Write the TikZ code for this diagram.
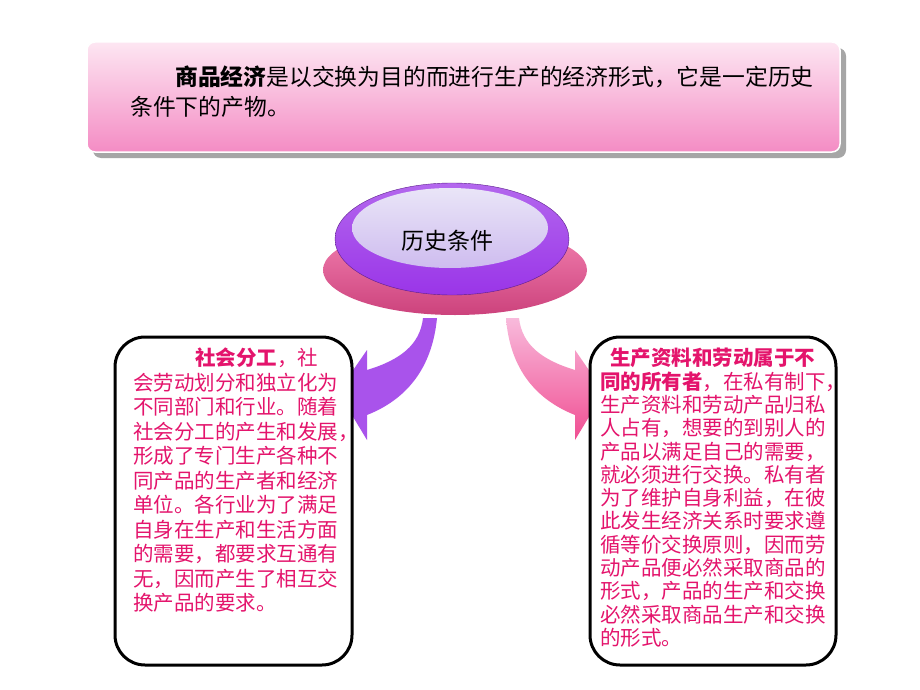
\documentclass[tikz,border=0pt]{standalone}
\usepackage{fontspec}
\newfontfamily\cjk{Noto Sans CJK SC}
\definecolor{txtred}{HTML}{E4146C}
\definecolor{lpink}{HTML}{FDE6F2}
\definecolor{dpink}{HTML}{F48CC4}
\definecolor{purp}{HTML}{9A35E8}
\definecolor{lav}{HTML}{D4CBF0}
\definecolor{hotpink}{HTML}{F04E92}
\tikzset{
  box/.style={draw=black,line width=3pt,rounded corners=30pt,fill=white},
  boxtext/.style={text=txtred,align=left,anchor=north west,inner sep=0pt,text width=#1},
}
\begin{document}
\begin{tikzpicture}[x=1pt,y=-1pt]
\useasboundingbox (0,0) rectangle (920,690);
\fill[white] (0,0) rectangle (920,690);
% banner
\fill[gray!70,rounded corners=8pt] (93,48) rectangle (846,158);
\shade[top color=lpink,bottom color=dpink,rounded corners=8pt,draw=white,line width=1.5pt] (87,42) rectangle (840,152);
\node[anchor=north west,inner sep=0pt,text width=720pt,font=\cjk\fontsize{22.8}{30}\selectfont,align=left] (banner) at (130,66)
 {\hspace*{45pt}\textbf{商品经济}是以交换为目的而进行生产的经济形式，它是一定历史\\条件下的产物。};
% ellipse
\shade[top color=hotpink!70,bottom color=hotpink!85!black] (455,270) ellipse (132pt and 45pt);
\shade[top color=purp!75,bottom color=purp,draw=purp!60!black] (452,239) ellipse (117pt and 56pt);
\shade[top color=lav!50,bottom color=lav!90!purp] (450,228) ellipse (98pt and 40pt);
\node[font=\cjk\fontsize{23}{26}\selectfont] (hist) at (447,241) {历史条件};
% arrows
\fill[purp!85] (423,318) .. controls (420,345) and (400,360) .. (367,370)
  -- (367,350) -- (338,392) -- (367,440)
  -- (367,415) .. controls (405,400) and (432,370) .. (437,318) -- cycle;
\shade[top color=dpink!60,bottom color=hotpink] (506,318) .. controls (510,370) and (537,400) .. (575,415)
  -- (575,440) -- (604,392) -- (575,350)
  -- (575,370) .. controls (542,360) and (522,345) .. (519,318) -- cycle;
% boxes
\draw[box] (115,337) rectangle (352,665);
\draw[box] (590,337) rectangle (836,665);
\node[boxtext=228pt,font=\cjk\fontsize{20.5}{24.5}\selectfont] (lt) at (133,348)
 {\hspace*{62pt}\textbf{社会分工}，社\\会劳动划分和独立化为\\不同部门和行业。随着\\社会分工的产生和发展，\\形成了专门生产各种不\\同产品的生产者和经济\\单位。各行业为了满足\\自身在生产和生活方面\\的需要，都要求互通有\\无，因而产生了相互交\\换产品的要求。};
\node[boxtext=240pt,font=\cjk\fontsize{20.5}{23.3}\selectfont] (rt) at (600,348)
 {\hspace*{10pt}\textbf{生产资料和劳动属于不}\\\textbf{同的所有者}，在私有制下，\\生产资料和劳动产品归私\\人占有，想要的到别人的\\产品以满足自己的需要，\\就必须进行交换。私有者\\为了维护自身利益，在彼\\此发生经济关系时要求遵\\循等价交换原则，因而劳\\动产品便必然采取商品的\\形式，产品的生产和交换\\必然采取商品生产和交换\\的形式。};
\end{tikzpicture}
\end{document}
